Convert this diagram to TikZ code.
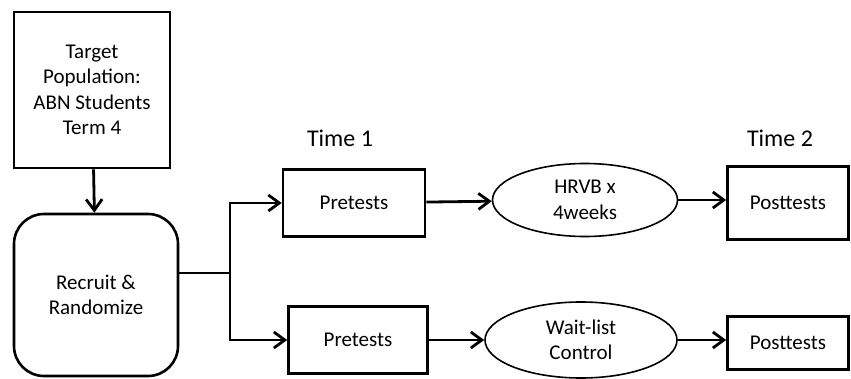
\documentclass[tikz,border=0pt]{standalone}
\usepackage{fontspec}
\setmainfont{Carlito}
\usetikzlibrary{arrows.meta,shapes.geometric}
\begin{document}
\begin{tikzpicture}[x=1pt,y=-1pt,
    box/.style={draw, line width=2.6pt, inner sep=0pt, align=center,
                font=\fontsize{21}{25.5}\selectfont},
    oval/.style={draw, ellipse, line width=1.6pt, inner sep=0pt, align=center,
                font=\fontsize{21}{25.5}\selectfont},
    arr/.style={line width=2.8pt, -{Straight Barb[length=11pt,width=16pt,line width=2.8pt]}}]
    \useasboundingbox (0,0) rectangle (851,379);

    % 目标人群与招募
    \node[box, minimum width=156pt, minimum height=156pt] (target) at (92,90)
        {Target\\Population:\\ABN Students\\Term 4};
    \node[box, rounded corners=30pt, minimum width=164pt, minimum height=162pt] (recruit) at (96,295)
        {Recruit \&\\Randomize};
    \draw[arr] (target) -- (recruit);

    % 时间标签
    \node[font=\fontsize{24}{28}\selectfont] (time1) at (340,138) {Time 1};
    \node[font=\fontsize{24}{28}\selectfont] (time2) at (780,138) {Time 2};

    % 上方分支: 干预组
    \node[box, minimum width=142pt, minimum height=67pt] (pre1) at (354,203) {Pretests};
    \node[oval, minimum width=185pt, minimum height=73pt] (hrvb) at (585,200) {HRVB x\\4weeks};
    \node[box, minimum width=121pt, minimum height=73pt] (post1) at (788,203) {Posttests};

    % 下方分支: 对照组
    \node[box, minimum width=139pt, minimum height=67pt] (pre2) at (358,340) {Pretests};
    \node[oval, minimum width=192pt, minimum height=76pt] (wait) at (581,340) {Wait-list\\Control};
    \node[box, minimum width=121pt, minimum height=53pt] (post2) at (788,343) {Posttests};

    % 分叉连接线
    \coordinate (split) at (230,273);
    \draw[line width=2.8pt] (recruit.east |- split) -- (split);
    \draw[arr] (split) |- (pre1.west);
    \draw[arr] (split) |- (pre2.west);

    % 流程箭头
    \draw[arr] (pre1) -- (hrvb);
    \draw[arr] (hrvb) -- (post1.west |- hrvb);
    \draw[arr] (pre2) -- (wait);
    \draw[arr] (wait) -- (post2.west |- wait);
\end{tikzpicture}
\end{document}
